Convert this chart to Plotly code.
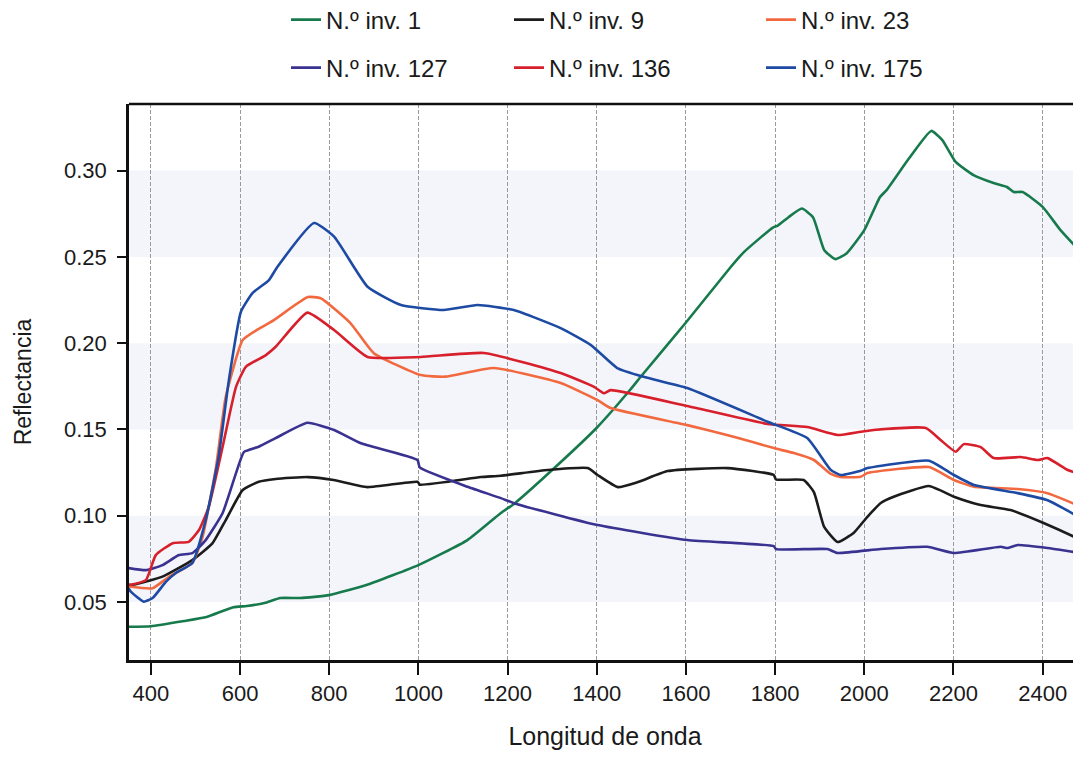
import plotly.graph_objects as go

# ---------------- data ----------------
w_inv1 = [350, 400, 475, 525, 585, 615, 655, 690, 735, 800, 885, 1000, 1110, 1185, 1215, 1300,
          1400, 1475, 1500, 1600, 1700, 1730, 1795, 1805, 1830, 1860, 1885, 1910, 1935, 1960,
          2000, 2035, 2050, 2100, 2150, 2175, 2205, 2245, 2290, 2320, 2335, 2355, 2400, 2440, 2487, 2500]
r_inv1 = [0.0357, 0.036, 0.039, 0.0413, 0.047, 0.0477, 0.0494, 0.0523, 0.0523, 0.054, 0.060, 0.0714,
          0.0859, 0.1016, 0.107, 0.1265, 0.151, 0.173, 0.181, 0.212, 0.244, 0.2528, 0.267, 0.268,
          0.273, 0.278, 0.273, 0.254, 0.2487, 0.252, 0.2655, 0.2846, 0.2887, 0.307, 0.323, 0.3177,
          0.305, 0.2974, 0.2928, 0.2905, 0.2876, 0.2876, 0.279, 0.2655, 0.2522, 0.247]

w_inv9 = [350, 360, 426, 493, 538, 568, 606, 642, 680, 752, 810, 886, 998, 1003, 1140, 1185, 1290,
          1380, 1402, 1447, 1492, 1559, 1694, 1797, 1802, 1864, 1887, 1910, 1940, 1976, 2007, 2037,
          2066, 2145, 2201, 2261, 2328, 2402, 2485, 2500]
r_inv9 = [0.060, 0.0599, 0.0647, 0.0743, 0.084, 0.0975, 0.1149, 0.1197, 0.1213, 0.1224, 0.1207,
          0.1166, 0.1197, 0.118, 0.1224, 0.1232, 0.1265, 0.1276, 0.1236, 0.1166, 0.1195, 0.1259,
          0.1276, 0.1236, 0.121, 0.1207, 0.1137, 0.0935, 0.0848, 0.090, 0.0994, 0.1074, 0.111,
          0.1172, 0.111, 0.1062, 0.1033, 0.0958, 0.086, 0.084]

w_inv23 = [350, 404, 440, 493, 516, 546, 568, 606, 640, 676, 752, 781, 848, 900, 1005, 1060, 1169,
           1319, 1402, 1431, 1603, 1707, 1797, 1842, 1887, 1925, 1947, 1992, 2007, 2145, 2201, 2246,
           2344, 2411, 2485, 2500]
r_inv23 = [0.059, 0.058, 0.0645, 0.0726, 0.0878, 0.128, 0.169, 0.2018, 0.208, 0.2134, 0.2267, 0.226,
           0.2115, 0.1942, 0.1815, 0.1806, 0.1856, 0.1769, 0.167, 0.1624, 0.1525, 0.1458, 0.1392,
           0.1363, 0.1323, 0.1242, 0.1224, 0.1226, 0.1247, 0.1282, 0.1207, 0.1168, 0.1155, 0.1131,
           0.1052, 0.103]

w_inv127 = [350, 389, 426, 463, 493, 523, 561, 591, 609, 642, 680, 751, 811, 871, 998, 1003, 1110,
            1185, 1214, 1402, 1603, 1797, 1802, 1917, 1940, 2037, 2141, 2201, 2306, 2321, 2344,
            2411, 2485, 2500]
r_inv127 = [0.0697, 0.0685, 0.0714, 0.0772, 0.0783, 0.0859, 0.1016, 0.1247, 0.137, 0.140, 0.145,
            0.1539, 0.1497, 0.142, 0.1323, 0.128, 0.1168, 0.1102, 0.1073, 0.0946, 0.0859, 0.0824,
            0.0807, 0.0807, 0.0784, 0.0807, 0.082, 0.0784, 0.082, 0.0813, 0.083, 0.0813, 0.0784, 0.078]

w_inv136 = [350, 389, 411, 449, 485, 508, 530, 561, 591, 613, 658, 680, 751, 811, 886, 1005, 1147,
            1319, 1394, 1416, 1431, 1603, 1783, 1872, 1940, 1992, 2021, 2138, 2171, 2205, 2223,
            2261, 2290, 2351, 2389, 2411, 2456, 2485, 2500]
r_inv136 = [0.0598, 0.0627, 0.0772, 0.0841, 0.0849, 0.0917, 0.1052, 0.140, 0.1747, 0.1863, 0.1931,
            0.1979, 0.2177, 0.2076, 0.192, 0.192, 0.1943, 0.1827, 0.1747, 0.171, 0.1728, 0.1636,
            0.1532, 0.1514, 0.1468, 0.1487, 0.1497, 0.1508, 0.1439, 0.1371, 0.1415, 0.1398, 0.1334,
            0.134, 0.1323, 0.1334, 0.1265, 0.1242, 0.123]

w_inv175 = [350, 355, 384, 404, 434, 456, 493, 523, 552, 575, 602, 628, 665, 684, 766, 811, 886, 961,
            1057, 1132, 1214, 1319, 1387, 1446, 1505, 1603, 1783, 1872, 1925, 1947, 1992, 2007, 2145,
            2201, 2246, 2344, 2411, 2485, 2500]
r_inv175 = [0.058, 0.056, 0.0502, 0.0523, 0.0618, 0.0668, 0.0726, 0.0975, 0.1342, 0.1786, 0.2182,
            0.229, 0.2366, 0.2443, 0.2696, 0.2617, 0.2327, 0.2221, 0.2192, 0.2221, 0.2192, 0.2087,
            0.1989, 0.1856, 0.1805, 0.174, 0.1545, 0.145, 0.1265, 0.1236, 0.1261, 0.1276, 0.1319,
            0.1236, 0.1178, 0.1131, 0.109, 0.0987, 0.096]

series_names = ["N.º inv. 1", "N.º inv. 9", "N.º inv. 23", "N.º inv. 127", "N.º inv. 136", "N.º inv. 175"]
series_x = [w_inv1, w_inv9, w_inv23, w_inv127, w_inv136, w_inv175]
series_y = [r_inv1, r_inv9, r_inv23, r_inv127, r_inv136, r_inv175]
series_colors = ["#177a4c", "#1c1c1c", "#f2693f", "#3a3290", "#d7202b", "#1d4aa3"]
series_legend = ["legend", "legend", "legend", "legend2", "legend2", "legend2"]
series_legendwidth = [178, 207, 150, 178, 207, 150]

x_ticks = [400, 600, 800, 1000, 1200, 1400, 1600, 1800, 2000, 2200, 2400]
y_ticks = [0.05, 0.10, 0.15, 0.20, 0.25, 0.30]
y_ticklabels = ["0.05", "0.10", "0.15", "0.20", "0.25", "0.30"]
band_ranges = [(0.05, 0.10), (0.15, 0.20), (0.25, 0.30)]

FONT = "Arial, 'Liberation Sans', sans-serif"
W, H = 1073, 742  # page adds an 8px body margin around the figure

fig = go.Figure()
for name, xs, ys, col, lg, lw in zip(series_names, series_x, series_y, series_colors,
                                     series_legend, series_legendwidth):
    fig.add_trace(go.Scatter(
        x=xs, y=ys, name=name, mode="lines", legend=lg, legendwidth=lw,
        line=dict(color=col, width=2.6, shape="spline", smoothing=0.45),
    ))

for y0, y1 in band_ranges:
    fig.add_shape(type="rect", xref="paper", yref="y", x0=0, x1=1, y0=y0, y1=y1,
                  fillcolor="#f4f5fb", line_width=0, layer="below")

# top frame line
fig.add_shape(type="line", xref="paper", yref="paper", x0=0, x1=1, y0=1, y1=1,
              line=dict(color="#111111", width=2.5))

legend_common = dict(orientation="h", xref="container", yref="container",
                     x=278 / W, xanchor="left", yanchor="middle",
                     font=dict(size=24, family=FONT), bgcolor="rgba(0,0,0,0)")

fig.update_layout(
    width=W, height=H,
    margin=dict(l=121, r=0, t=96, b=90),
    paper_bgcolor="white", plot_bgcolor="white",
    font=dict(family=FONT, color="#1a1a1a", size=22),
    showlegend=True,
    legend=dict(legend_common, y=1 - 12 / H),
    legend2=dict(legend_common, y=1 - 60 / H),
    xaxis=dict(
        range=[351, 2486], tickvals=x_ticks, ticktext=[str(v) for v in x_ticks],
        showgrid=True, gridcolor="#9a9a9a", gridwidth=1, griddash="4px,2px",
        showline=True, linecolor="#111111", linewidth=2.5,
        ticks="outside", ticklen=12, tickwidth=1.5, tickcolor="#111111",
        tickfont=dict(size=22, family=FONT), ticklabelstandoff=0,
        title=dict(text="Longitud de onda", font=dict(size=25, family=FONT), standoff=34),
        zeroline=False, automargin=False,
    ),
    yaxis=dict(
        range=[0.0164, 0.3386], tickvals=y_ticks, ticktext=y_ticklabels,
        showgrid=False, showline=True, linecolor="#111111", linewidth=2.5,
        ticks="outside", ticklen=9, tickwidth=1.5, tickcolor="#111111",
        tickfont=dict(size=22, family=FONT), ticklabelstandoff=6,
        title=dict(text="Reflectancia", font=dict(size=23, family=FONT), standoff=26),
        zeroline=False, automargin=False,
    ),
)

fig.write_html("out.html")
